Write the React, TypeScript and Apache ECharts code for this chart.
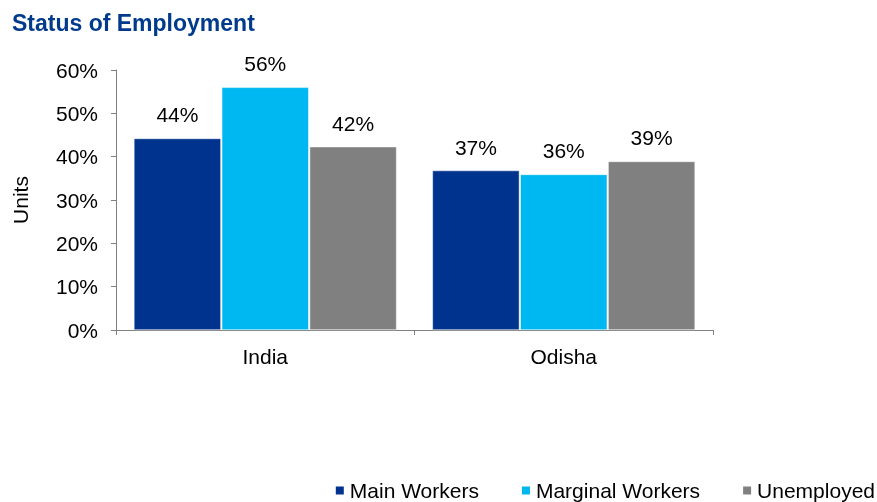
import React, { useEffect, useRef } from "react";
import * as echarts from "echarts";

const categories = ["India", "Odisha"];
const mainWorkers = [44.2, 36.8];
const marginalWorkers = [56.0, 35.9];
const unemployed = [42.3, 38.9];
const yTicks = [0, 10, 20, 30, 40, 50, 60];

const FONT = "'Liberation Sans', Arial, sans-serif";

export default function App() {
  const ref = useRef<HTMLDivElement>(null);
  useEffect(() => {
    const chart = echarts.init(ref.current!, null, { renderer: "svg" });
    const mk = (name: string, data: number[], color: string) => ({
      name,
      type: "bar",
      data,
      barCategoryGap: "12%",
      barGap: "1%",
      itemStyle: { color, borderColor: "#ffffff", borderWidth: 0.5 },
      label: {
        show: true,
        position: "top",
        distance: 13,
        formatter: (p: any) => Math.round(p.value) + "%",
        fontFamily: FONT,
        fontSize: 21,
        color: "#000",
      },
    });
    chart.setOption({
      animation: false,
      title: {
        text: "Status of Employment",
        left: 7,
        top: 6,
        textStyle: { fontFamily: FONT, fontSize: 23, fontWeight: "bold", color: "#003a8c" },
      },
      grid: { left: 116, right: 164, top: 70, bottom: 172, containLabel: false },
      legend: {
        top: 480,
        right: 2,
        padding: 0,
        itemWidth: 10,
        itemHeight: 10,
        itemGap: 41,
        icon: "rect",
        textStyle: { fontFamily: FONT, fontSize: 21, color: "#000" },
        data: ["Main Workers", "Marginal Workers", "Unemployed"],
      },
      xAxis: {
        type: "category",
        data: categories,
        axisLine: { lineStyle: { color: "#808080" } },
        axisTick: { show: true, length: 5, lineStyle: { color: "#808080" } },
        axisLabel: { fontFamily: FONT, fontSize: 21, color: "#000", margin: 16 },
      },
      yAxis: {
        type: "value",
        min: 0,
        max: 60,
        interval: 10,
        name: "Units",
        nameLocation: "middle",
        nameGap: 85,
        nameRotate: 90,
        nameTextStyle: { fontFamily: FONT, fontSize: 21, color: "#000" },
        splitLine: { show: false },
        axisLine: { show: true, lineStyle: { color: "#808080" } },
        axisTick: { show: true, length: 5, lineStyle: { color: "#808080" } },
        axisLabel: {
          fontFamily: FONT,
          fontSize: 21,
          color: "#000",
          margin: 18,
          formatter: (v: number) => (yTicks.includes(v) ? v + "%" : ""),
        },
      },
      series: [
        mk("Main Workers", mainWorkers, "#00338d"),
        mk("Marginal Workers", marginalWorkers, "#00b8f1"),
        mk("Unemployed", unemployed, "#808080"),
      ],
    });
    return () => chart.dispose();
  }, []);
  return (
    <div
      ref={ref}
      style={{ position: "fixed", left: 0, top: 0, width: 877, height: 502 }}
    />
  );
}
